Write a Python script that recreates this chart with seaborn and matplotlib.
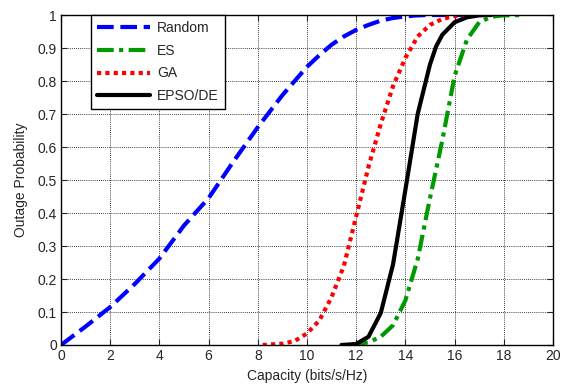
import numpy as np
import pandas as pd
import matplotlib
matplotlib.use("Agg")
import matplotlib.pyplot as plt
import seaborn as sns

# --- data ---
random_x = [0, 1, 2, 3, 4, 5, 6, 7, 8, 9, 10, 10.5, 11, 11.5, 12, 12.5, 13, 13.5, 14, 14.5, 15, 16.3]
random_y = [0, 0.056, 0.115, 0.185, 0.262, 0.362, 0.445, 0.555, 0.66, 0.757, 0.843, 0.878, 0.91, 0.935, 0.955, 0.97, 0.983, 0.991, 0.996, 0.999, 1.0, 1.0]

es_x = [11.8, 12.5, 13.0, 13.5, 14.0, 14.5, 15.0, 15.5, 16.0, 16.5, 17.0, 17.5, 18.0, 18.8]
es_y = [0, 0.008, 0.025, 0.06, 0.135, 0.26, 0.445, 0.62, 0.815, 0.925, 0.978, 0.995, 0.999, 1.0]

ga_x = [8.2, 9.0, 9.5, 10.0, 10.5, 11.0, 11.5, 12.0, 12.5, 13.0, 13.5, 14.0, 14.5, 15.0, 15.5, 16.0, 16.5]
ga_y = [0, 0.004, 0.012, 0.035, 0.074, 0.145, 0.24, 0.39, 0.54, 0.67, 0.785, 0.87, 0.935, 0.97, 0.988, 0.997, 1.0]

epso_x = [11.4, 12.0, 12.5, 13.0, 13.5, 14.0, 14.5, 15.0, 15.25, 15.5, 16.0, 16.5, 17.0, 17.5]
epso_y = [0, 0.003, 0.025, 0.097, 0.245, 0.47, 0.70, 0.85, 0.905, 0.94, 0.978, 0.993, 0.999, 1.0]

series_names = ["Random", "ES", "GA", "EPSO/DE"]
x_ticks = list(range(0, 21, 2))
y_ticks = [0, 0.1, 0.2, 0.3, 0.4, 0.5, 0.6, 0.7, 0.8, 0.9, 1]
y_tick_labels = ["0", "0.1", "0.2", "0.3", "0.4", "0.5", "0.6", "0.7", "0.8", "0.9", "1"]

sns.set_style("white")
plt.rcParams["font.family"] = ["Liberation Sans", "DejaVu Sans"]

fig = plt.figure(figsize=(5.61, 3.85), dpi=100)
ax = fig.add_axes([0.1087, 0.1039, 0.9857 - 0.1087, 0.961 - 0.1039])

styles = {
    "Random": dict(color="#0000ff", dashes=(4, 1.6)),
    "ES": dict(color="#009900", dashes=(4, 1.3, 1, 1.3)),
    "GA": dict(color="#ff0000", dashes=(1, 1)),
    "EPSO/DE": dict(color="#000000", dashes=None),
}
xs = [random_x, es_x, ga_x, epso_x]
ys = [random_y, es_y, ga_y, epso_y]

for name, x, y in zip(series_names, xs, ys):
    df = pd.DataFrame({"Capacity": x, "Outage": y})
    st = styles[name]
    sns.lineplot(data=df, x="Capacity", y="Outage", ax=ax, color=st["color"],
                 linewidth=3, label=name, sort=False)
    l = ax.get_lines()[-1]
    if st["dashes"] is not None:
        l.set_dashes(st["dashes"])
    l.set_dash_capstyle("butt")
    l.set_solid_joinstyle("round")
    l.set_dash_joinstyle("round")

ax.set_xlim(0, 20)
ax.set_ylim(0, 1)
ax.set_xticks(x_ticks)
ax.set_yticks(y_ticks)
ax.set_yticklabels(y_tick_labels)
ax.set_xlabel("Capacity (bits/s/Hz)", fontsize=10, labelpad=4)
ax.set_ylabel("Outage Probability", fontsize=10, labelpad=7)
ax.tick_params(axis="both", labelsize=10, direction="in", length=4, width=0.8,
               top=True, right=True, bottom=True, left=True, pad=3)
ax.grid(True, color="black", linestyle=(0, (1, 1.5)), linewidth=0.6)
for sp in ax.spines.values():
    sp.set_color("black")
    sp.set_linewidth(1.0)

leg = ax.legend(loc="upper left", bbox_to_anchor=(0.06, 1.0), borderaxespad=0,
                fontsize=10, frameon=True, fancybox=False, handlelength=3.8,
                labelspacing=0.62, borderpad=0.45, handletextpad=0.55)
leg.get_frame().set_edgecolor("black")
leg.get_frame().set_linewidth(1.0)
leg.get_frame().set_alpha(1)

fig.savefig("out.png", dpi=100, facecolor="white")
